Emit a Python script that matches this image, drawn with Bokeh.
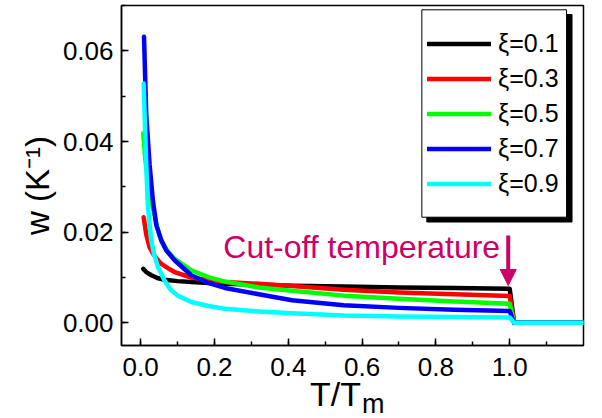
from math import pi
from bokeh.plotting import figure
from bokeh.models import (Range1d, SingleIntervalTicker, PrintfTickFormatter, Label,
                          Arrow, NormalHead, BoxAnnotation, Legend, LegendItem)
from bokeh.embed import file_html
from bokeh.resources import INLINE

# ---------------- data ----------------
t_01 = [0.007, 0.015, 0.029, 0.045, 0.065, 0.10, 0.137, 0.183, 0.228, 0.32, 0.41, 0.55, 0.70, 0.85, 1.00, 1.012, 1.20]
w_01 = [0.0119, 0.0112, 0.0105, 0.0099, 0.0095, 0.0092, 0.0090, 0.0088, 0.0086, 0.0084, 0.0082, 0.0080, 0.0078, 0.0077, 0.0075, 0.0, 0.0]

t_03 = [0.008, 0.015, 0.024, 0.034, 0.047, 0.056, 0.075, 0.092, 0.137, 0.183, 0.228, 0.32, 0.41, 0.55, 0.70, 0.85, 1.00, 1.012, 1.20]
w_03 = [0.0233, 0.0195, 0.0167, 0.0152, 0.0138, 0.0130, 0.0120, 0.0112, 0.0100, 0.0094, 0.0090, 0.0086, 0.0081, 0.0073, 0.0067, 0.0063, 0.0059, 0.0, 0.0]

t_05 = [0.007, 0.012, 0.020, 0.0325, 0.045, 0.056, 0.075, 0.092, 0.137, 0.183, 0.228, 0.32, 0.41, 0.55, 0.70, 0.85, 1.00, 1.012, 1.20]
w_05 = [0.0418, 0.0365, 0.0310, 0.0255, 0.0210, 0.0180, 0.0156, 0.0141, 0.0116, 0.0101, 0.0091, 0.0078, 0.0071, 0.0060, 0.0053, 0.0047, 0.0042, 0.0, 0.0]

t_07 = [0.009, 0.015, 0.024, 0.033, 0.0425, 0.056, 0.069, 0.092, 0.137, 0.183, 0.228, 0.32, 0.41, 0.55, 0.70, 0.85, 1.00, 1.012, 1.20]
w_07 = [0.0631, 0.0460, 0.0350, 0.0270, 0.0215, 0.0182, 0.0160, 0.0138, 0.0105, 0.0088, 0.0077, 0.0063, 0.0050, 0.0039, 0.0033, 0.0029, 0.0026, 0.0, 0.0]

t_09 = [0.008, 0.0146, 0.019, 0.028, 0.036, 0.047, 0.065, 0.080, 0.100, 0.137, 0.183, 0.228, 0.32, 0.41, 0.55, 0.70, 0.85, 1.00, 1.012, 1.20]
w_09 = [0.0528, 0.0359, 0.0263, 0.0185, 0.0152, 0.0123, 0.0093, 0.0074, 0.0060, 0.0046, 0.0037, 0.0031, 0.0025, 0.0021, 0.0016, 0.0014, 0.0013, 0.0012, 0.0, 0.0]

series_labels = ["ξ=0.1", "ξ=0.3", "ξ=0.5", "ξ=0.7", "ξ=0.9"]
series_colors = ["#000000", "#FF0000", "#00FF00", "#0000FF", "#00FFFF"]
series_t = [t_01, t_03, t_05, t_07, t_09]
series_w = [w_01, w_03, w_05, w_07, w_09]

x_label_main = "T/T"
x_label_sub = "m"
y_label = "w (K\u207b\u00b9)"
note_text = "Cut-off temperature"
cutoff_x = 0.996

# ---------------- layout ----------------
FONT = "Liberation Sans"
X0, X1 = -0.052, 1.2
Y0, Y1 = -0.005, 0.07
FL, FR, FT, FB = 120, 583, 5, 345
W, H = 602, 418

def dx(px):
    return X0 + (px - FL) / (FR - FL) * (X1 - X0)

def dy(py):
    return Y0 + (FB - py) / (FB - FT) * (Y1 - Y0)

p = figure(width=W, height=H, output_backend="svg", toolbar_location=None,
           x_range=Range1d(X0, X1), y_range=Range1d(Y0, Y1),
           min_border_left=FL, min_border_right=W - FR,
           min_border_top=FT, min_border_bottom=H - FB)
p.grid.visible = False
p.outline_line_color = "black"
p.outline_line_width = 1.5
p.background_fill_color = "white"
p.border_fill_color = "white"

p.xaxis.ticker = SingleIntervalTicker(interval=0.2, num_minor_ticks=2)
p.yaxis.ticker = SingleIntervalTicker(interval=0.02, num_minor_ticks=2)
p.xaxis.formatter = PrintfTickFormatter(format="%.1f")
p.yaxis.formatter = PrintfTickFormatter(format="%.2f")
for ax in (p.xaxis, p.yaxis):
    ax.axis_line_width = 1.5
    ax.axis_line_color = "black"
    ax.major_tick_in = 7
    ax.major_tick_out = 0
    ax.minor_tick_in = 4
    ax.minor_tick_out = 0
    ax.major_tick_line_width = 1.5
    ax.minor_tick_line_width = 1.5
    ax.major_label_text_font = FONT
    ax.major_label_text_font_size = "26px"
    ax.major_label_text_color = "black"
p.xaxis.major_label_standoff = 12
p.yaxis.major_label_standoff = 8

# legend frame + shadow (drawn before the legend)
shadow = BoxAnnotation(left=dx(426), right=dx(571.5), top=dy(14), bottom=dy(221.5),
                       fill_color="black", fill_alpha=1.0, line_color="black", line_alpha=1.0)
box = BoxAnnotation(left=dx(421), right=dx(566), top=dy(9.3), bottom=dy(216.7),
                    fill_color="white", fill_alpha=1.0, line_color="black", line_width=1, line_alpha=1.0)
p.add_layout(shadow)
p.add_layout(box)

items = []
for t, w, lab, col in zip(series_t, series_w, series_labels, series_colors):
    r = p.line(t, w, line_color=col, line_width=4.5, line_join="round", line_cap="round")
    items.append(LegendItem(label=lab, renderers=[r]))

legend = Legend(items=items, location=(426 - FL, FB - 201.3),
                padding=0, margin=0, spacing=0,
                glyph_width=64, glyph_height=35, label_height=35, label_standoff=7,
                label_text_font=FONT, label_text_font_size="25px", label_text_color="black",
                border_line_alpha=0, background_fill_alpha=0)
p.add_layout(legend)

C = "#CC0066"
p.add_layout(Arrow(end=NormalHead(size=16, fill_color=C, line_color=C),
                   x_start=cutoff_x, y_start=dy(235), x_end=cutoff_x, y_end=dy(285),
                   line_color=C, line_width=4))
p.add_layout(Label(x=dx(222), y=dy(246), text=note_text, text_font=FONT,
                   text_font_size="32px", text_color=C, text_baseline="alphabetic"))

# axis titles (placed in the side panels so they are not clipped by the frame)
p.add_layout(Label(x=dx(309), y=dy(393), text=x_label_main, text_font=FONT,
                   text_font_size="34px", text_color="black", text_baseline="alphabetic"), "below")
p.add_layout(Label(x=dx(361), y=dy(403), text=x_label_sub, text_font=FONT,
                   text_font_size="27px", text_color="black", text_baseline="alphabetic"), "left")
p.add_layout(Label(x=dx(36), y=dy(185), text=y_label, text_font=FONT, angle=pi / 2,
                   text_align="center",
                   text_font_size="33px", text_color="black", text_baseline="alphabetic"), "left")

open("out.html", "w").write(file_html(p, INLINE))
